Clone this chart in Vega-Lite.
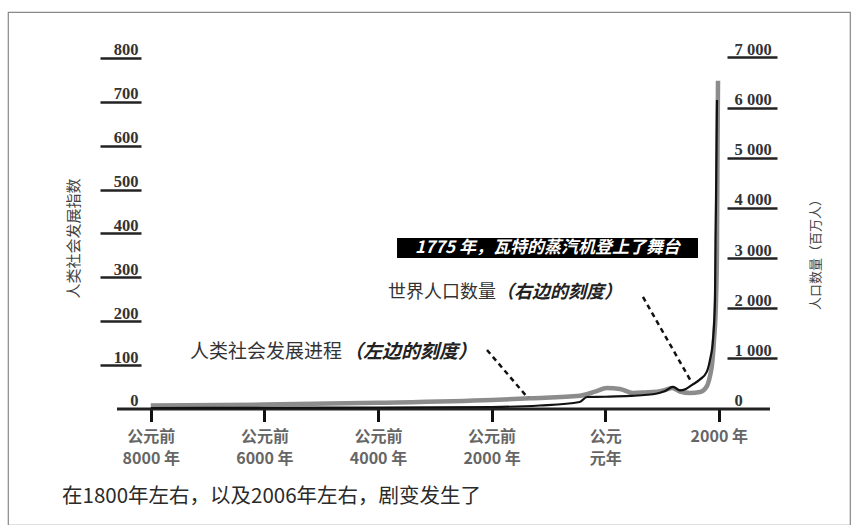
{
  "$schema": "https://vega.github.io/schema/vega-lite/v6.json",
  "width": 842,
  "height": 513,
  "autosize": {"type": "none"},
  "padding": {"left": 8, "top": 12, "right": 8, "bottom": 0},
  "background": "white",
  "config": {
    "view": {"stroke": "#888", "strokeWidth": 1.2},
    "font": "Noto Sans CJK SC",
    "axis": {"grid": false}
  },
  "datasets": {
    "social": [
      {"year": -8000, "level": 8}, {"year": -6000, "level": 10}, {"year": -4000, "level": 14},
      {"year": -2000, "level": 20.5}, {"year": -1320, "level": 24.4}, {"year": -440, "level": 30.3},
      {"year": -180, "level": 39.4}, {"year": 30, "level": 47.9}, {"year": 260, "level": 45.6},
      {"year": 490, "level": 36.5}, {"year": 700, "level": 37.6}, {"year": 915, "level": 39.4},
      {"year": 1055, "level": 43.3}, {"year": 1180, "level": 47.9}, {"year": 1317, "level": 39.9},
      {"year": 1493, "level": 36.5}, {"year": 1669, "level": 38.7}, {"year": 1792, "level": 52.4},
      {"year": 1845, "level": 75}, {"year": 1880, "level": 100}, {"year": 1916, "level": 157},
      {"year": 1951, "level": 248}, {"year": 1968, "level": 362}, {"year": 1977, "level": 590},
      {"year": 1986, "level": 748}
    ],
    "population": [
      {"year": -8000, "pop": 10}, {"year": -6000, "pop": 15}, {"year": -4000, "pop": 20},
      {"year": -2000, "pop": 30}, {"year": -1150, "pop": 60}, {"year": -450, "pop": 130},
      {"year": -320, "pop": 230}, {"year": 0, "pop": 235}, {"year": 440, "pop": 250},
      {"year": 915, "pop": 300}, {"year": 1055, "pop": 350}, {"year": 1195, "pop": 430},
      {"year": 1315, "pop": 360}, {"year": 1420, "pop": 390}, {"year": 1530, "pop": 470},
      {"year": 1670, "pop": 580}, {"year": 1790, "pop": 735}, {"year": 1845, "pop": 970},
      {"year": 1898, "pop": 1370}, {"year": 1933, "pop": 2165}, {"year": 1942, "pop": 3360},
      {"year": 1951, "pop": 4160}, {"year": 1960, "pop": 5150}, {"year": 1968, "pop": 6150}
    ]
  },
  "resolve": {"scale": {"y": "independent"}, "axis": {"x": "independent", "y": "independent"}},
  "layer": [
    {
      "resolve": {"axis": {"x": "independent", "y": "independent"}},
      "layer": [
        {
          "data": {"name": "social"},
          "mark": {"type": "line", "color": "#8c8c8c", "strokeWidth": 4.5, "interpolate": "monotone"},
          "encoding": {
            "x": {
              "field": "year", "type": "quantitative",
              "scale": {"domain": [-10514, 4310], "nice": false, "zero": false},
              "axis": {
                "orient": "bottom", "offset": -116.5, "domain": false, "grid": false,
                "values": [-8000, -6000, -4000, -2000, 0, 2000],
                "tickSize": 13, "tickWidth": 3, "tickColor": "#111",
                "labelPadding": 7, "labelBaseline": "top", "labelLineHeight": 22,
                "labelFont": "Noto Sans CJK SC", "labelFontSize": 16, "labelFontWeight": "bold",
                "labelColor": "#666", "labelFlush": false, "labelOverlap": false,
                "labelExpr": "datum.value < 0 ? ['公元前', (-datum.value) + ' 年'] : (datum.value == 0 ? ['公元', '元年'] : datum.value + ' 年')",
                "title": null
              }
            },
            "y": {
              "field": "level", "type": "quantitative",
              "scale": {"domain": [-264.4, 904.8], "nice": false, "zero": false},
              "axis": {
                "orient": "left", "offset": -133, "domain": false, "grid": false,
                "values": [0, 100, 200, 300, 400, 500, 600, 700, 800],
                "tickSize": 41, "tickWidth": 2.5,
                "tickColor": {"condition": {"test": "datum.value == 0", "value": "transparent"}, "value": "#222"},
                "labelAlign": "right", "labelBaseline": "alphabetic", "labelPadding": -38, "labelOffset": -3,
                "labelFont": "Liberation Serif", "labelFontSize": 16.5, "labelFontWeight": "bold", "labelColor": "#333",
                "title": "人类社会发展指数", "titleFont": "Noto Sans CJK SC", "titleFontSize": 15,
                "titleFontWeight": "normal", "titleColor": "#444", "titleAngle": -90,
                "titleX": -68, "titleY": 226, "titleAlign": "center", "titleBaseline": "middle"
              }
            }
          }
        },
        {
          "data": {"values": [{"x1": -8595, "x2": 2901, "v": 0}]},
          "mark": {"type": "rule", "color": "#222", "strokeWidth": 3},
          "encoding": {
            "x": {"field": "x1", "type": "quantitative", "scale": {"domain": [-10514, 4310], "nice": false, "zero": false}, "axis": null},
            "x2": {"field": "x2"},
            "y": {"field": "v", "type": "quantitative", "scale": {"domain": [-264.4, 904.8], "nice": false, "zero": false}, "axis": null}
          }
        },
        {
          "data": {"values": [
            {"x1": 665, "y1": 255.3, "x2": 1528, "y2": 59.3},
            {"x1": -2081, "y1": 134.5, "x2": -1359, "y2": 25.1}
          ]},
          "mark": {"type": "rule", "color": "#111", "strokeWidth": 2.5, "strokeDash": [5, 4]},
          "encoding": {
            "x": {"field": "x1", "type": "quantitative", "scale": {"domain": [-10514, 4310], "nice": false, "zero": false}, "axis": null},
            "x2": {"field": "x2"},
            "y": {"field": "y1", "type": "quantitative", "scale": {"domain": [-264.4, 904.8], "nice": false, "zero": false}, "axis": null},
            "y2": {"field": "y2"}
          }
        },
        {
          "data": {"values": [{"x1": -3665, "x2": 1634, "y1": 389.7, "y2": 344.2}]},
          "mark": {"type": "rect", "color": "#000"},
          "encoding": {
            "x": {"field": "x1", "type": "quantitative", "scale": {"domain": [-10514, 4310], "nice": false, "zero": false}, "axis": null},
            "x2": {"field": "x2"},
            "y": {"field": "y1", "type": "quantitative", "scale": {"domain": [-264.4, 904.8], "nice": false, "zero": false}, "axis": null},
            "y2": {"field": "y2"}
          }
        },
        {
          "data": {"values": [{"year": -1016, "level": 366.9, "note": "1775 年，瓦特的蒸汽机登上了舞台"}]},
          "mark": {"type": "text", "color": "white", "fontSize": 17, "fontWeight": "bold", "fontStyle": "italic", "align": "center", "baseline": "middle", "font": "Noto Sans CJK SC"},
          "encoding": {
            "x": {"field": "year", "type": "quantitative", "scale": {"domain": [-10514, 4310], "nice": false, "zero": false}, "axis": null},
            "y": {"field": "level", "type": "quantitative", "scale": {"domain": [-264.4, 904.8], "nice": false, "zero": false}, "axis": null},
            "text": {"field": "note"}
          }
        },
        {
          "data": {"values": [
            {"year": -3824, "level": 264.4, "note": "世界人口数量"}
          ]},
          "mark": {"type": "text", "color": "#333", "fontSize": 18, "align": "left", "baseline": "middle", "font": "Noto Sans CJK SC"},
          "encoding": {
            "x": {"field": "year", "type": "quantitative", "scale": {"domain": [-10514, 4310], "nice": false, "zero": false}, "axis": null},
            "y": {"field": "level", "type": "quantitative", "scale": {"domain": [-264.4, 904.8], "nice": false, "zero": false}, "axis": null},
            "text": {"field": "note"}
          }
        },
        {
          "data": {"values": [
            {"year": -1922, "level": 264.4, "note": "（右边的刻度）"}
          ]},
          "mark": {"type": "text", "color": "#222", "fontSize": 18, "fontWeight": "bold", "fontStyle": "italic", "align": "left", "baseline": "middle", "font": "Noto Sans CJK SC"},
          "encoding": {
            "x": {"field": "year", "type": "quantitative", "scale": {"domain": [-10514, 4310], "nice": false, "zero": false}, "axis": null},
            "y": {"field": "level", "type": "quantitative", "scale": {"domain": [-264.4, 904.8], "nice": false, "zero": false}, "axis": null},
            "text": {"field": "note"}
          }
        },
        {
          "data": {"values": [
            {"year": -7310, "level": 129.9, "note": "人类社会发展进程"}
          ]},
          "mark": {"type": "text", "color": "#333", "fontSize": 19, "align": "left", "baseline": "middle", "font": "Noto Sans CJK SC"},
          "encoding": {
            "x": {"field": "year", "type": "quantitative", "scale": {"domain": [-10514, 4310], "nice": false, "zero": false}, "axis": null},
            "y": {"field": "level", "type": "quantitative", "scale": {"domain": [-264.4, 904.8], "nice": false, "zero": false}, "axis": null},
            "text": {"field": "note"}
          }
        },
        {
          "data": {"values": [
            {"year": -4600, "level": 129.9, "note": "（左边的刻度）"}
          ]},
          "mark": {"type": "text", "color": "#222", "fontSize": 19, "fontWeight": "bold", "fontStyle": "italic", "align": "left", "baseline": "middle", "font": "Noto Sans CJK SC"},
          "encoding": {
            "x": {"field": "year", "type": "quantitative", "scale": {"domain": [-10514, 4310], "nice": false, "zero": false}, "axis": null},
            "y": {"field": "level", "type": "quantitative", "scale": {"domain": [-264.4, 904.8], "nice": false, "zero": false}, "axis": null},
            "text": {"field": "note"}
          }
        },
        {
          "data": {"values": [{"year": -9563, "level": -200.6, "note": "在1800年左右，以及2006年左右，剧变发生了"}]},
          "mark": {"type": "text", "color": "#2a2a2a", "fontSize": 20.5, "align": "left", "baseline": "middle", "font": "Noto Sans CJK SC"},
          "encoding": {
            "x": {"field": "year", "type": "quantitative", "scale": {"domain": [-10514, 4310], "nice": false, "zero": false}, "axis": null},
            "y": {"field": "level", "type": "quantitative", "scale": {"domain": [-264.4, 904.8], "nice": false, "zero": false}, "axis": null},
            "text": {"field": "note"}
          }
        }
      ]
    },
    {
      "data": {"name": "population"},
      "mark": {"type": "line", "color": "#111", "strokeWidth": 2.2, "interpolate": "monotone"},
      "encoding": {
        "x": {"field": "year", "type": "quantitative", "scale": {"domain": [-10514, 4310], "nice": false, "zero": false}, "axis": null},
        "y": {
          "field": "pop", "type": "quantitative",
          "scale": {"domain": [-2323, 7907], "nice": false, "zero": false},
          "axis": {
            "orient": "right", "offset": -123, "domain": false, "grid": false,
            "values": [0, 1000, 2000, 3000, 4000, 5000, 6000, 7000],
            "tickSize": 50, "tickWidth": 2.5,
            "tickColor": {"condition": {"test": "datum.value == 0", "value": "transparent"}, "value": "#222"},
            "labelAlign": "left", "labelBaseline": "alphabetic", "labelPadding": -43, "labelOffset": -3,
            "labelExpr": "replace(format(datum.value, ','), ',', ' ')",
            "labelFont": "Liberation Serif", "labelFontSize": 16.5, "labelFontWeight": "bold", "labelColor": "#333",
            "title": "人口数量（百万人）", "titleFont": "Noto Sans CJK SC", "titleFontSize": 13,
            "titleFontWeight": "normal", "titleColor": "#444", "titleAngle": -90,
            "titleX": 88, "titleY": 239, "titleAlign": "center", "titleBaseline": "middle"
          }
        }
      }
    }
  ]
}
